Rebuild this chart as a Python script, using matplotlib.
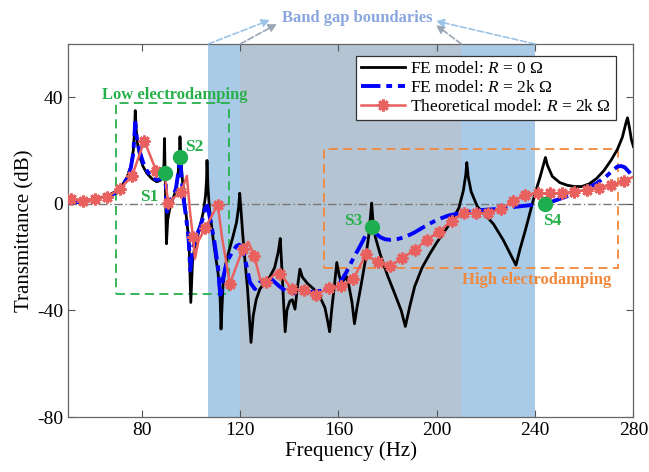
import numpy as np
import matplotlib
matplotlib.use('Agg')
import matplotlib.pyplot as plt
from matplotlib.patches import Rectangle
from matplotlib.lines import Line2D

# transmittance spectra (frequency in Hz, transmittance in dB)

# FE model, R = 0 ohm
fe0_f = [50, 55, 60, 64, 67, 70, 72, 74, 75.5, 76.5, 77, 77.3, 77.7, 78.3, 79.2, 80.5, 82, 84, 86,
         87.5, 88.5, 89, 89.2, 89.6, 90, 90.5, 91.3, 92.5, 93.8, 94.7, 95.2, 95.5, 96, 96.5, 97.3,
         98.3, 99.2, 99.9, 100.6, 101.5, 103.3, 105, 105.9, 106.3, 106.5, 106.9, 107.5, 109.4, 111,
         111.8, 112.2, 113, 114, 115.5, 117, 118.5, 119.4, 119.8, 120.3, 121, 122, 123, 124, 124.4,
         125.3, 126.5, 128, 130, 132, 134, 135.5, 136.3, 137, 137.7, 138.3, 139, 140.2, 141.2, 142.3,
         143.2, 144.3, 145.3, 147.5, 150, 152.5, 154.5, 155.8, 156.4, 157.2, 158.3, 159.3, 160.3,
         161.2, 162.5, 163.3, 164.3, 165.5, 166.5, 167.5, 169, 170.8, 172.3, 173.2, 173.5, 174, 175,
         177, 180, 183, 185.5, 187.2, 189, 191, 194, 197, 200, 203, 206, 209, 210.8, 211.8, 212.2,
         212.8, 214, 216.5, 220, 223, 227, 230, 232.2, 234, 236, 238, 240, 242, 243.5, 244.2, 245,
         247, 250, 253, 256, 259, 262, 265, 268, 271, 273.5, 275.5, 277, 277.6, 278.3, 279.2, 280]
fe0_db = [0.8, 1, 1.6, 2.5, 3.5, 5, 7, 10, 14, 20, 27, 35, 28, 22, 17.5, 14, 11.5, 9.5, 8.3,
          8.8, 11, 15, 24.5, 5, -15, -6, -2, 1.5, 5, 11, 17, 25.2, 15, 9, 1.5,
          -6.5, -15, -37, -22, -16, -10, -3, 3, 9, 16.3, 6, -2, -16, -26,
          -34, -47, -31, -23, -17.5, -12.5, -7, -1, 4, -2, -11, -22, -32, -46, -52,
          -42, -36, -32, -29.5, -27.5, -24, -18, -13, -25, -38, -48, -40, -36.5, -36, -39.5,
          -32, -24.5, -27.5, -30, -32, -35, -39, -45, -48, -40, -31, -22, -27,
          -29.5, -28.3, -27.3, -31, -37, -45, -39, -31.5, -22, -12, -3, 0.3, -6, -12.5,
          -19, -27, -34, -40, -46, -38.5, -31, -24, -19, -14.5, -10.5, -6.5, -1.5, 5, 11, 15.5,
          10, 4.5, -1, -4.5, -7.5, -13.5, -19, -23, -16.5, -10, -3, 4, 10, 15, 17.4, 14.5,
          10.3, 8, 7, 6.5, 6.5, 7.5, 9.5, 12.5, 16.5, 20.5, 25, 30.5, 32.3, 29, 24, 21.5]

# FE model, R = 2k ohm
fe2k_f = [50, 55, 60, 64, 67, 70, 72, 74, 75.5, 76.5, 77.3, 78, 79, 80.5, 82, 84, 86, 87.5, 88.7,
          89.4, 89.8, 90.2, 91, 92.5, 93.8, 94.7, 95.5, 96.2, 97, 98, 99, 99.7, 100.6, 102, 103.5,
          105, 106.2, 107.2, 109.4, 111, 112, 113, 114.5, 116.5, 118.5, 119.7, 121, 122.5, 124, 126,
          128, 130.5, 133, 136, 139, 142, 146, 150, 154, 157, 160, 163, 166, 169, 171.5, 173.5, 175,
          177, 179, 181, 184, 187, 191, 195, 200, 205, 210, 215, 220, 225, 230, 235, 239, 244.2, 248,
          252.6, 257, 261, 265, 268.8, 271.5, 273.5, 275, 276.5, 278, 280]
fe2k_db = [0.5, 0.7, 1.3, 2.2, 3, 4.5, 6.5, 9.5, 13.5, 19, 30.5, 24, 20, 15.5, 12.5, 10, 9, 9.3, 11,
           11.5, 6, -3, 0, 2.5, 5.5, 11, 17.5, 9, 1.5, -5, -13, -25, -17, -12.5, -9,
           -5, 0.5, -3, -13.5, -24, -35.5, -28, -22, -18.5, -15.8, -15.3, -17, -23, -29.5, -32,
           -29.5, -28, -28.5, -31, -33, -33.5, -33.3, -33, -32.5, -32, -30.5, -26, -20.5, -15.5, -11, -8.5, -11,
           -12.5, -13.3, -13.5, -13.2, -12.5, -10.7, -8.5, -6, -4.3, -3.4, -2.6, -2.2, -1.9, -1.3, -0.8, -0.4, 0, 1.2,
           2.7, 4.3, 5.8, 7.7, 10.2, 12.5, 14, 14.2, 13.7, 12.2, 10]

# theoretical model, R = 2k ohm (line and star markers)
th_f = [51, 56, 61, 66, 71, 76, 81, 85.8, 89.5, 90.6, 96, 98.3, 99.6, 100.8, 101.6, 103, 105.8,
        110.9, 112.5, 115.8, 121, 123.3, 125.8, 128.2, 130.7, 134, 135.6, 136.4, 141, 146, 151,
        156, 161, 166, 169.5, 171, 172.2, 176, 181, 186, 191, 196, 201, 206, 211, 216, 221, 226,
        231, 236, 241, 246, 251, 256, 261, 266, 271, 276, 280]
th_db = [1.75, 1.25, 1.75, 2.75, 5.5, 10.5, 23.6, 12.5, 10, 0.5, 4.5, 10.5, -3, -12.5, -20.5, -14, -9,
         -0.3, -12, -30, -17, -14.3, -19.7, -28.5, -29.3, -26.5, -24.8, -26.2, -32, -32.5, -34.1,
         -31.6, -31, -28.2, -22, -19, -19.6, -22, -23.3, -20.4, -17.2, -13.5, -10.4, -6.3, -3.5, -3.6, -3.3, -2,
         1, 3.3, 4, 4, 4.1, 4.6, 5.2, 5.9, 7.1, 8.4, 10.2]
th_mark_f = [51, 56, 61, 66, 71, 76, 81, 85.8, 90.6, 96, 100.8, 105.8, 110.9, 115.8, 121, 125.8,
             130.7, 136.4, 141, 146, 151, 156, 161, 166, 171, 176, 181, 186, 191, 196, 201, 206,
             211, 216, 221, 226, 231, 236, 241, 246, 251, 256, 261, 266, 271, 276]
th_mark_db = [1.75, 1.25, 1.75, 2.75, 5.5, 10.5, 23.6, 12.5, 0.5, 4.5, -12.5, -9, -0.3, -30, -17, -19.7,
              -29.3, -26.2, -32, -32.5, -34.1, -31.6, -31, -28.2, -19, -22, -23.3, -20.4, -17.2, -13.5,
              -10.4, -6.3, -3.5, -3.6, -3.3, -2, 1, 3.3, 4, 4, 4.1, 4.6, 5.2, 5.9, 7.1, 8.4]

# selected states S1..S4
state_names = ['S1', 'S2', 'S3', 'S4']
state_f = [89.4, 95.5, 173.5, 244.2]
state_db = [11.5, 17.4, -8.5, 0]

# band gaps (Hz)
gap_outer = (107, 240)
gap_inner = (120, 210)

# dashed boxes: (f0, f1, db0, db1)
low_box = (69.3, 115.3, -33.8, 38)
high_box = (154, 273.8, -24.1, 20.6)

xticks = [80, 120, 160, 200, 240, 280]
yticks = [-80, -40, 0, 40]

plt.rcParams['font.family'] = ['Liberation Serif', 'DejaVu Serif']
plt.rcParams['mathtext.fontset'] = 'custom'
plt.rcParams['mathtext.rm'] = 'Liberation Serif'
plt.rcParams['mathtext.it'] = 'Liberation Serif:italic'
plt.rcParams['axes.unicode_minus'] = False

green = '#27b04a'
orange = '#f0883c'
red = '#e8615f'

fig = plt.figure(figsize=(6.49, 4.72), dpi=100)
ax = fig.add_axes([0.105, 0.1165, 0.871, 0.7903])

ax.axvspan(gap_outer[0], gap_outer[1], color='#aacbe8', lw=0, zorder=0)
ax.axvspan(gap_inner[0], gap_inner[1], color='#b5c4d2', lw=0, zorder=0)
ax.axhline(0, color='#777777', lw=1, ls=(0, (6, 2, 1, 2)), zorder=1)

ax.add_patch(Rectangle((low_box[0], low_box[2]), low_box[1] - low_box[0], low_box[3] - low_box[2],
                       fill=False, ec=green, lw=1.3, ls=(0, (5, 3)), zorder=2))
ax.add_patch(Rectangle((high_box[0], high_box[2]), high_box[1] - high_box[0], high_box[3] - high_box[2],
                       fill=False, ec=orange, lw=1.3, ls=(0, (5, 3)), zorder=2))

ax.plot(fe0_f, fe0_db, color='black', lw=2, zorder=3)
ax.plot(fe2k_f, fe2k_db, color='#0000ff', lw=2.8, ls=(0, (5, 1.5, 1.5, 1.5)), zorder=4)
ax.plot(th_f, th_db, color=red, lw=1.8, zorder=5)
ax.plot(th_mark_f, th_mark_db, ls='none', marker=(8, 2, 0), ms=8.5, mew=2, color=red, zorder=5)

ax.plot(state_f, state_db, 'o', color='#1fae4f', ms=10, zorder=6)
state_text = [(83.2, 2.7), (101.2, 21.5), (165.8, -6.6), (247, -6.6)]
for name, (tx, ty) in zip(state_names, state_text):
    ax.text(tx, ty, name, color=green, fontsize=12.5, fontweight='bold', ha='center', va='center', zorder=7)

ax.text(93.5, 41, 'Low electrodamping', color=green, fontsize=12, fontweight='bold', ha='center', va='center')
ax.text(240.5, -28.5, 'High electrodamping', color=orange, fontsize=12, fontweight='bold', ha='center', va='center')

# band gap boundary arrows
fig.text(357 / 649, 1 - 18 / 472, 'Band gap boundaries', color='#8aa6de', fontsize=12,
         fontweight='bold', ha='center', va='center')
arrows = [(gap_outer[0], (270, 20), '#9cc4e8'), (gap_inner[0], (277, 24), '#9aa6b6'),
          (gap_inner[1], (436, 25), '#9aa6b6'), (gap_outer[1], (436, 21), '#9cc4e8')]
for fx, (px, py), c in arrows:
    ax.annotate('', xy=(px / 649, 1 - py / 472), xycoords='figure fraction',
                xytext=(fx, 60), textcoords='data', annotation_clip=False,
                arrowprops=dict(arrowstyle='-|>', color=c, lw=1.2, ls='--',
                                shrinkA=0, shrinkB=0, mutation_scale=12))

ax.set_xlim(50, 280)
ax.set_ylim(-80, 60)
ax.set_xticks(xticks)
ax.set_yticks(yticks)
ax.tick_params(direction='in', top=True, right=True, length=5, width=0.8, labelsize=14, color='#555555')
for s in ax.spines.values():
    s.set_color('#666666')
    s.set_linewidth(0.9)
ax.set_xlabel('Frequency (Hz)', fontsize=15, labelpad=2)
ax.set_ylabel('Transmittance (dB)', fontsize=15, labelpad=2)

handles = [Line2D([], [], color='black', lw=2),
           Line2D([], [], color='#0000ff', lw=2.8, ls=(0, (5, 1.5, 1.5, 1.5))),
           Line2D([], [], color=red, lw=1.8, marker=(8, 2, 0), ms=8.5, mew=2)]
labels = ['FE model: $R$ = 0 Ω', 'FE model: $R$ = 2k Ω', 'Theoretical model: $R$ = 2k Ω']
leg = ax.legend(handles, labels, loc='upper right', bbox_to_anchor=(616 / 649, 1 - 56 / 472),
                bbox_transform=fig.transFigure, borderaxespad=0, fontsize=12.5, handlelength=2.5,
                labelspacing=0.15, borderpad=0.3, handletextpad=0.3, fancybox=False, framealpha=1)
leg.get_frame().set_edgecolor('#333333')
leg.get_frame().set_linewidth(0.9)
leg.set_zorder(10)

fig.savefig('out.png', dpi=100)
